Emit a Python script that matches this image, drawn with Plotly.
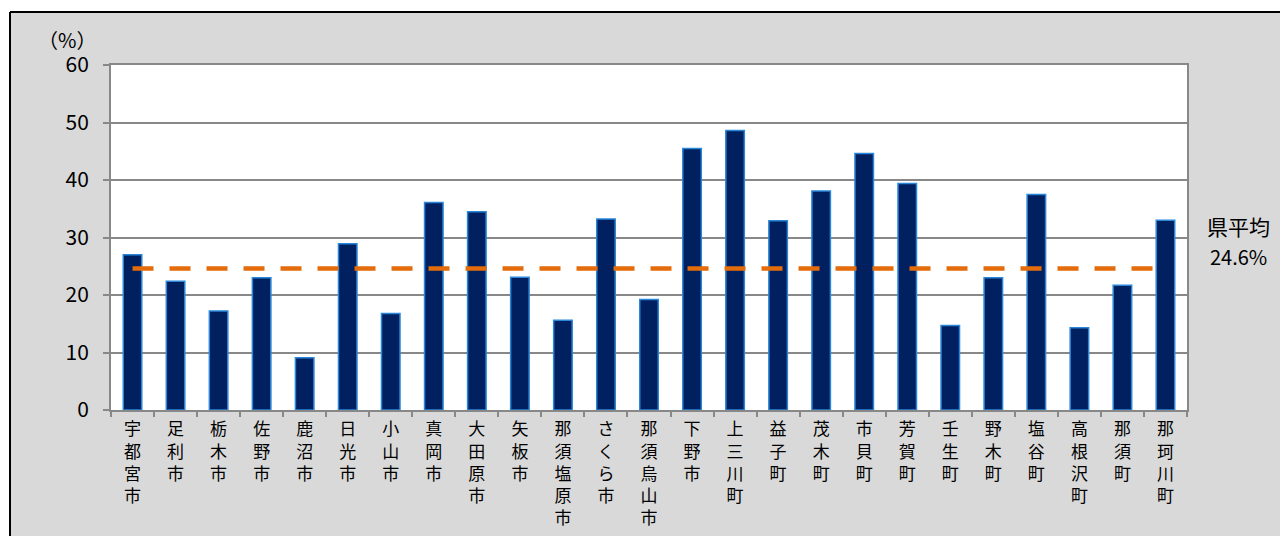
import plotly.graph_objects as go

# municipalities (x categories) and their rates (%)
cities = [
    "宇都宮市", "足利市", "栃木市", "佐野市", "鹿沼市", "日光市", "小山市", "真岡市",
    "大田原市", "矢板市", "那須塩原市", "さくら市", "那須烏山市", "下野市", "上三川町",
    "益子町", "茂木町", "市貝町", "芳賀町", "壬生町", "野木町", "塩谷町", "高根沢町",
    "那須町", "那珂川町",
]
rates = [
    27.0, 22.4, 17.2, 23.0, 9.1, 28.9, 16.8, 36.1, 34.5, 23.1, 15.6, 33.2, 19.2,
    45.5, 48.6, 32.9, 38.1, 44.6, 39.4, 14.7, 23.0, 37.5, 14.3, 21.7, 33.0,
]
pref_avg = 24.6
y_ticks = [0, 10, 20, 30, 40, 50, 60]

FONT = "Noto Sans CJK JP"

# vertical labels: one character per line
tick_text = ["<br>".join(list(c)) for c in cities]

fig = go.Figure()

fig.add_trace(go.Bar(
    x=cities,
    y=rates,
    marker=dict(color="#002060", line=dict(color="#2a86d8", width=1.5)),
    showlegend=False,
))

# prefecture average line
fig.add_trace(go.Scatter(
    x=[cities[0], cities[-1]],
    y=[pref_avg, pref_avg],
    mode="lines",
    line=dict(color="#e46c0a", width=4.5, dash="21px,16px"),
    showlegend=False,
))

# the page body has an 8px margin, so the figure sits at (8, 8)
FW, FH = 1272, 532
OFF = 8
# plot area in window pixels: x 111..1187, y 65..410
L, R, T, B = 111 - OFF, FW - (1187 - OFF), 65 - OFF, FH - (410 - OFF)
W, H = FW - L - R, FH - T - B

def px_x(px):
    return (px - OFF - L) / W

def px_y(py):
    return (FH - B - (py - OFF)) / H

shapes = [
    # white strip above and left of the chart frame
    dict(type="rect", xref="paper", yref="paper", x0=px_x(-20), x1=px_x(1300),
         y0=px_y(12), y1=px_y(-20), fillcolor="white", line_width=0, layer="below"),
    dict(type="rect", xref="paper", yref="paper", x0=px_x(-20), x1=px_x(10),
         y0=px_y(560), y1=px_y(-20), fillcolor="white", line_width=0, layer="below"),
    # black frame
    dict(type="line", xref="paper", yref="paper", x0=px_x(10), x1=px_x(1300),
         y0=px_y(12), y1=px_y(12), line=dict(color="black", width=2)),
    dict(type="line", xref="paper", yref="paper", x0=px_x(10), x1=px_x(10),
         y0=px_y(12), y1=px_y(560), line=dict(color="black", width=2)),
]

annotations = [
    dict(text="（%）", x=px_x(67), y=px_y(39), font=dict(size=20)),
    dict(text="県平均", x=px_x(1238), y=px_y(226), font=dict(size=21)),
    dict(text="24.6%", x=px_x(1238), y=px_y(256), font=dict(size=20)),
]
for a in annotations:
    a.update(xref="paper", yref="paper", xanchor="center", yanchor="middle",
             showarrow=False)
    a["font"].update(color="black", family=FONT)

fig.update_layout(
    width=FW,
    height=FH,
    margin=dict(l=L, r=R, t=T, b=B, pad=0),
    paper_bgcolor="#d9d9d9",
    plot_bgcolor="white",
    bargap=0.57,
    font=dict(family=FONT, color="black"),
    shapes=shapes,
    annotations=annotations,
    xaxis=dict(
        tickvals=cities,
        ticktext=tick_text,
        tickangle=0,
        tickfont=dict(size=17, family=FONT),
        tickson="boundaries",
        ticks="outside",
        ticklen=5,
        tickcolor="#888888",
        tickwidth=2,
        ticklabelstandoff=3,
        showline=True,
        linecolor="#888888",
        linewidth=2,
        mirror=True,
        showgrid=False,
        automargin=False,
    ),
    yaxis=dict(
        range=[0, 60],
        tickvals=y_ticks,
        tickfont=dict(size=21, family=FONT),
        ticks="outside",
        ticklen=6,
        tickcolor="#888888",
        tickwidth=2,
        ticklabelstandoff=10,
        showline=True,
        linecolor="#888888",
        linewidth=2,
        mirror=True,
        showgrid=True,
        gridcolor="#888888",
        gridwidth=2,
        zeroline=False,
        automargin=False,
    ),
)

fig.write_html("out.html")
